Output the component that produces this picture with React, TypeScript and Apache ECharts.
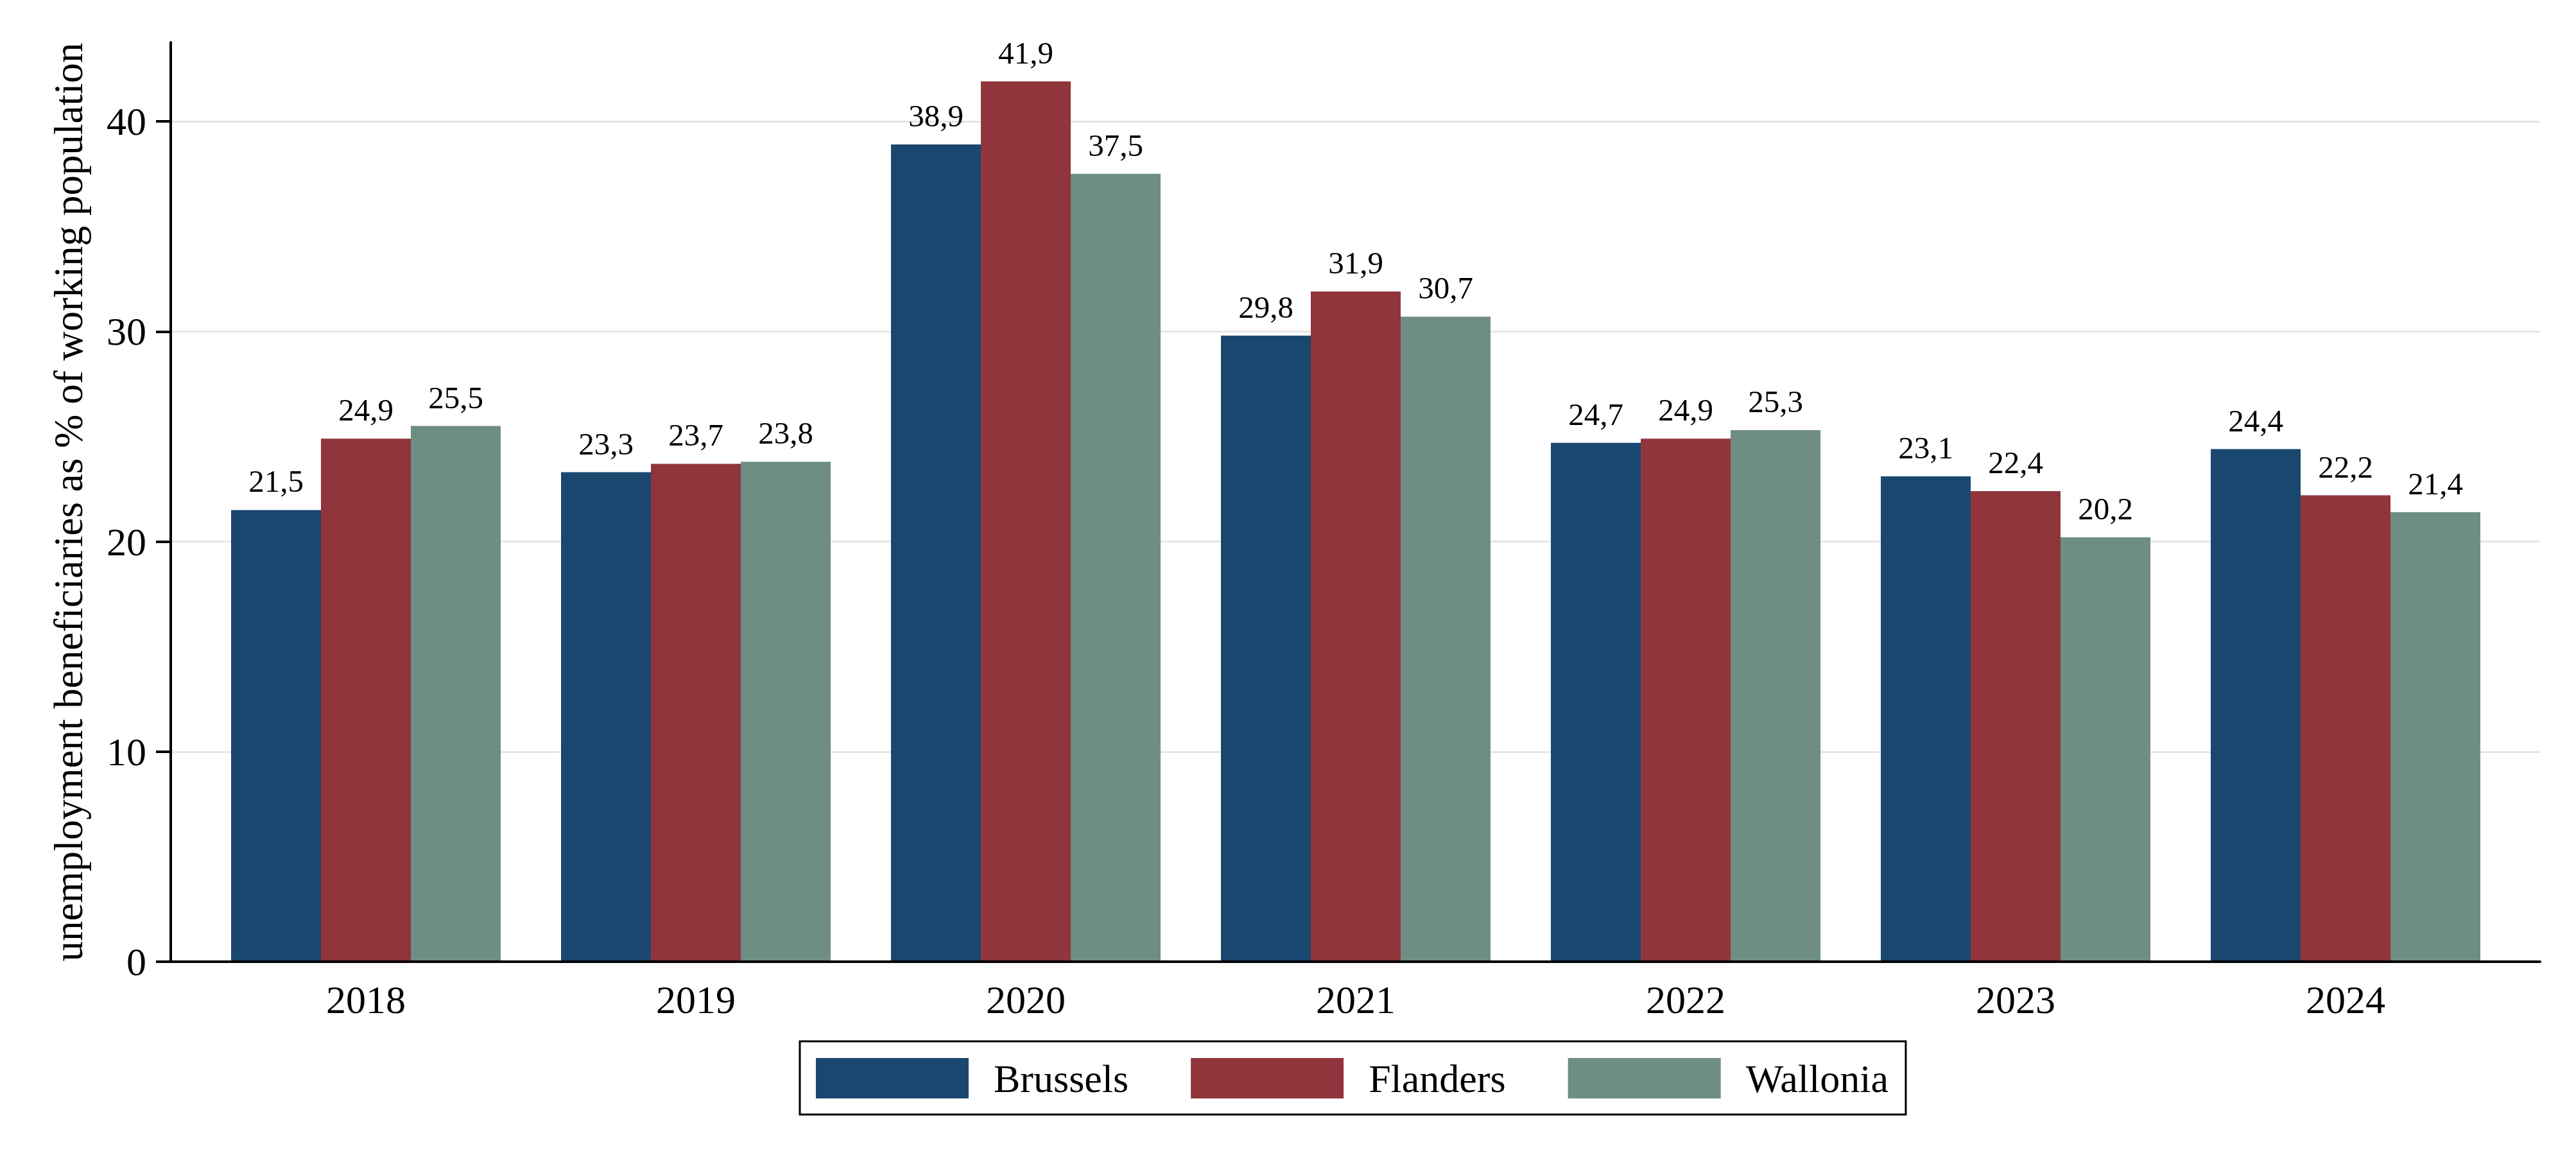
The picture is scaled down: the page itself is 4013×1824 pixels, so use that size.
import React, { useEffect, useRef } from 'react';
import * as echarts from 'echarts';

const years = ['2018', '2019', '2020', '2021', '2022', '2023', '2024'];
const brussels = [21.5, 23.3, 38.9, 29.8, 24.7, 23.1, 24.4];
const flanders = [24.9, 23.7, 41.9, 31.9, 24.9, 22.4, 22.2];
const wallonia = [25.5, 23.8, 37.5, 30.7, 25.3, 20.2, 21.4];
const seriesNames = ['Brussels', 'Flanders', 'Wallonia'];
const seriesColors = ['#1a476f', '#90353b', '#6e8e84'];
const yTickMax = 40;
const yTickStep = 10;
const yAxisTop = 43.76;
const yTitle = 'unemployment beneficiaries as % of working population';

export default function App() {
  const ref = useRef<HTMLDivElement>(null);
  useEffect(() => {
    const chart = echarts.init(ref.current!, null, { renderer: 'svg' });
    const font = "'Liberation Serif', 'Times New Roman', serif";
    const values = [brussels, flanders, wallonia];
    chart.setOption({
      animation: false,
      backgroundColor: '#ffffff',
      grid: [
        { left: 266, right: 56, top: 66, bottom: 326 },
        { left: 266, right: 56, top: 189, bottom: 326 },
        { left: 313, right: 102, top: 66, bottom: 326 },
      ],
      xAxis: [
        {
          gridIndex: 0, type: 'value', min: 0, max: 1, z: 10,
          axisLine: { show: true, onZero: false, lineStyle: { color: '#000', width: 4 } },
          axisTick: { show: false }, axisLabel: { show: false }, splitLine: { show: false },
        },
        { gridIndex: 1, type: 'value', min: 0, max: 1, show: false },
        {
          gridIndex: 2, type: 'category', data: years,
          axisLine: { show: false }, axisTick: { show: false },
          axisLabel: { fontSize: 62, fontFamily: font, color: '#000', margin: 28 },
        },
      ],
      yAxis: [
        {
          gridIndex: 0, type: 'value', min: 0, max: yAxisTop, z: 10,
          axisLine: { show: true, lineStyle: { color: '#000', width: 4 } },
          axisTick: { show: false }, axisLabel: { show: false }, splitLine: { show: false },
          name: yTitle, nameLocation: 'middle', nameGap: 128,
          nameTextStyle: { fontSize: 63, fontFamily: font, color: '#000' },
        },
        {
          gridIndex: 1, type: 'value', min: 0, max: yTickMax, interval: yTickStep,
          axisLine: { show: true, lineStyle: { color: '#000', width: 4 } },
          axisTick: { show: true, length: 23, lineStyle: { color: '#000', width: 4 } },
          axisLabel: { fontSize: 62, fontFamily: font, color: '#000', margin: 38 },
          splitLine: { show: true, lineStyle: { color: '#e6e6e6', width: 3 } },
        },
        { gridIndex: 2, type: 'value', min: 0, max: yAxisTop, show: false },
      ],
      legend: {
        data: seriesNames, left: 1246, top: 1622, orient: 'horizontal',
        itemWidth: 238, itemHeight: 63, itemGap: 97, icon: 'rect',
        padding: [26, 27, 25, 25], borderColor: '#000', borderWidth: 3,
        selectedMode: false,
        textStyle: { fontSize: 62, fontFamily: font, color: '#000', padding: [0, 0, 0, 34] },
      },
      series: seriesNames.map((name, i) => ({
        name, type: 'bar', xAxisIndex: 2, yAxisIndex: 2, data: values[i],
        barWidth: 140, barGap: '0%',
        itemStyle: { color: seriesColors[i] },
        label: {
          show: true, position: 'top', distance: 20, fontSize: 49, fontFamily: font, color: '#000',
          formatter: (p: any) => Number(p.value).toFixed(1).replace('.', ','),
        },
      })),
    });
    return () => chart.dispose();
  }, []);
  return <div ref={ref} style={{ position: 'absolute', left: 0, top: 0, width: 4013, height: 1824 }} />;
}
